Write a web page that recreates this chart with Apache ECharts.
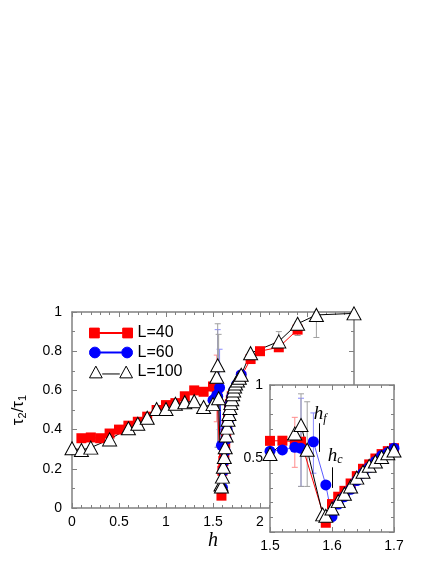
<!DOCTYPE html>
<html><head><meta charset="utf-8">
<script src="https://cdn.jsdelivr.net/npm/echarts@6/dist/echarts.min.js"></script>
<style>html,body{margin:0;padding:0;background:#fff}#c{width:436px;height:564px}</style>
</head><body><div id="c"></div>
<script>
// ---- data ----
const x40 = [0.1,0.2,0.3,0.4,0.5,0.6,0.7,0.8,0.9,1.0,1.1,1.2,1.3,1.4,1.5,1.52,1.54,1.55,1.59,1.60,1.61,1.62,1.63,1.64,1.65,1.66,1.67,1.68,1.69,1.70,1.8,1.9,2.0,2.2,2.4];
const y40 = [0.356,0.36,0.356,0.38,0.40,0.42,0.44,0.466,0.50,0.525,0.535,0.57,0.60,0.593,0.62,0.621,0.614,0.614,0.063,0.19,0.24,0.28,0.33,0.38,0.43,0.46,0.50,0.53,0.55,0.57,0.67,0.76,0.80,0.82,0.91];

const x60 = [1.5,1.52,1.54,1.55,1.57,1.59,1.60,1.61,1.62,1.63,1.64,1.65,1.66,1.67,1.68,1.69,1.70,1.72,1.75,1.8];
const y60 = [0.55,0.558,0.576,0.569,0.614,0.32,0.104,0.19,0.24,0.29,0.35,0.40,0.44,0.48,0.52,0.54,0.57,0.60,0.63,0.68];

const x100 = [0,0.1,0.2,0.4,0.6,0.7,0.8,0.9,1.0,1.1,1.2,1.3,1.4,1.5,1.54,1.55,1.56,1.585,1.59,1.60,1.61,1.62,1.63,1.64,1.65,1.66,1.67,1.68,1.69,1.70,1.71,1.72,1.73,1.74,1.76,1.78,1.8,1.9,2.2,2.4,2.6,3.0];
const y100 = [0.305,0.296,0.308,0.35,0.407,0.43,0.46,0.505,0.505,0.532,0.54,0.545,0.515,0.53,0.67,0.728,0.56,0.12,0.11,0.16,0.21,0.26,0.31,0.37,0.41,0.45,0.48,0.51,0.535,0.555,0.58,0.60,0.62,0.635,0.65,0.665,0.68,0.79,0.85,0.94,0.985,0.993];

// error bars: [x, low, high]
const err40 = [[1.54,0.44,0.78]];
const err60 = [[1.55,0.31,0.91],[1.57,0.40,0.81]];
const err100 = [[1.55,0.31,0.94],[1.56,0.31,0.886],[2.2,0.80,0.90],[2.4,0.88,0.95],[2.6,0.87,0.995]];

const seriesNames = ['L=40','L=60','L=100'];
const mainXTickLabels = [0,0.5,1,1.5,2];
const insetYTickLabels = [0.5,1];

// annotations in inset data coords
const annoText = [['h','f',1.581,0.80],['h','c',1.605,0.52]];
const annoArrow = [[1.58,0.74,0.545],[1.6,0.44,0.30]];

// ---- helpers ----
const zip = (xs, ys) => xs.map((x,i)=>[x, ys[i]]);
const inInset = a => a.filter(d => d[0] >= 1.5 && d[0] <= 1.7);
const AX = '#808080';
const FONT = 'Liberation Sans';

function errRender(color){
  return function(params, api){
    const x = api.value(0), lo = api.value(1), hi = api.value(2);
    const p1 = api.coord([x, lo]), p2 = api.coord([x, hi]);
    const cw = 3;
    const st = {stroke: color, lineWidth: 1};
    return {type:'group', children:[
      {type:'line', shape:{x1:p1[0],y1:p1[1],x2:p2[0],y2:p2[1]}, style:st},
      {type:'line', shape:{x1:p1[0]-cw,y1:p1[1],x2:p1[0]+cw,y2:p1[1]}, style:st},
      {type:'line', shape:{x1:p2[0]-cw,y1:p2[1],x2:p2[0]+cw,y2:p2[1]}, style:st}
    ]};
  };
}

function axisCommon(extra){
  return Object.assign({
    splitLine:{show:false},
    axisLine:{show:true, onZero:false, lineStyle:{color:AX, width:1.5}},
    axisTick:{show:true, inside:true, length:5, lineStyle:{color:AX}},
    axisLabel:{color:'#000', fontFamily:FONT, fontSize:14},
  }, extra);
}

const styles = {
  'L=40': {symbol:'rect', symbolSize:10, itemStyle:{color:'#ff0000'}, lineStyle:{color:'#ff0000', width:1}},
  'L=60': {symbol:'circle', symbolSize:11, itemStyle:{color:'#0000ff'}, lineStyle:{color:'#0000ff', width:1}},
  'L=100': {symbol:'triangle', symbolSize:[14,13], itemStyle:{color:'#ffffff', borderColor:'#000', borderWidth:1}, lineStyle:{color:'#000', width:1}}
};
const dataMap = {'L=40': zip(x40,y40), 'L=60': zip(x60,y60), 'L=100': zip(x100,y100)};
const errMap = {'L=40': err40, 'L=60': err60, 'L=100': err100};
const errColor = {'L=40':'#ff8c8c', 'L=60':'#8a8aff', 'L=100':'#a0a0a0'};

const series = [];
seriesNames.forEach(n=>{
  series.push({type:'custom', name:n+' err', xAxisIndex:0, yAxisIndex:0, z:1,
    renderItem: errRender(errColor[n]), encode:{x:0, y:[1,2]}, data: errMap[n], silent:true});
});
seriesNames.forEach(n=>{
  series.push(Object.assign({type:'line', name:n, xAxisIndex:0, yAxisIndex:0, z:3, data:dataMap[n], animation:false}, styles[n]));
});
seriesNames.forEach(n=>{
  series.push({type:'custom', name:n+' err', xAxisIndex:2, yAxisIndex:2, z:11,
    renderItem: errRender(errColor[n]), encode:{x:0, y:[1,2]}, data: inInset(errMap[n]), silent:true});
});
seriesNames.forEach((n,i)=>{
  const s = Object.assign({type:'line', name:n, xAxisIndex:2, yAxisIndex:2, z:12, clip:true, data:dataMap[n], animation:false}, styles[n]);
  if (n === 'L=60') s.lineStyle = {color:'#5c5cff', width:1};
  if (n === 'L=100') {
    s.markLine = {silent:true, z:14, symbol:['none','arrow'], symbolSize:[0,7], label:{show:false},
      lineStyle:{color:'#000', width:1, type:'solid'}, animation:false,
      data: annoArrow.map(a=>[{coord:[a[0],a[1]]},{coord:[a[0],a[2]]}])};
    s.markPoint = {silent:true, z:14, symbol:'circle', symbolSize:1, itemStyle:{color:'rgba(0,0,0,0)', borderWidth:0}, animation:false,
      label:{show:true, position:'inside', formatter: p => '{h|'+p.data.t+'}{s|'+p.data.s+'}',
        rich:{h:{fontFamily:'Liberation Serif', fontStyle:'italic', fontSize:19, color:'#000'},
              s:{fontFamily:'Liberation Serif', fontStyle:'italic', fontSize:12, color:'#000', verticalAlign:'bottom', padding:[8,0,0,0]}}},
      data: annoText.map(a=>({coord:[a[2],a[3]], t:a[0], s:a[1]}))};
  }
  series.push(s);
});

const iconPaths = {
  'L=40': 'path://M0,1h10v10h-10z M10,5.5h24v1h-24z M34,1h10v10h-10z',
  'L=60': 'path://M0,6a5.5,5.5 0 1,0 11,0a5.5,5.5 0 1,0 -11,0z M11,5.5h22v1h-22z M33,6a5.5,5.5 0 1,0 11,0a5.5,5.5 0 1,0 -11,0z',
  'L=100': 'path://M0,12L6.5,0L13,12z M31,12L37.5,0L44,12z M13,8H31'
};
const legendStyle = {
  'L=40': {color:'#ff0000', borderColor:'#ff0000', borderWidth:1},
  'L=60': {color:'#0000ff', borderColor:'#0000ff', borderWidth:1},
  'L=100': {color:'#ffffff', borderColor:'#000000', borderWidth:1}
};

const option = {
  animation:false,
  backgroundColor:'#fff',
  textStyle:{fontFamily:FONT},
  grid:[
    {left:72, top:312, width:282, height:196, containLabel:false},
    {left:270, top:385, width:124, height:147, containLabel:false, show:true, backgroundColor:'#fff', borderWidth:0, z:10}
  ],
  legend:{
    show:true, orient:'vertical', left:89, top:325, padding:0, itemWidth:43, itemHeight:12, itemGap:3.5,
    selectedMode:false, textStyle:{fontSize:16, color:'#000', fontFamily:FONT},
    data: seriesNames.map(n=>({name:n, icon:iconPaths[n], itemStyle:legendStyle[n]}))
  },
  xAxis:[
    axisCommon({type:'value', gridIndex:0, position:'bottom', min:0, max:3, interval:0.5,
      minorTick:{show:true, splitNumber:5, length:3, lineStyle:{color:AX}},
      axisLabel:{color:'#000', fontFamily:FONT, fontSize:14, margin:7,
        formatter: v => mainXTickLabels.includes(v) ? String(v) : ''},
      name:'h', nameLocation:'middle', nameGap:23,
      nameTextStyle:{fontFamily:'Liberation Serif', fontStyle:'italic', fontSize:20, color:'#000'}}),
    axisCommon({type:'value', gridIndex:0, position:'top', min:0, max:3, interval:0.5,
      minorTick:{show:true, splitNumber:5, length:3, lineStyle:{color:AX}},
      axisLabel:{show:false}}),
    axisCommon({type:'value', gridIndex:1, position:'bottom', min:1.5, max:1.7, interval:0.1, z:11,
      minorTick:{show:true, splitNumber:5, length:3, lineStyle:{color:AX}},
      axisLabel:{color:'#000', fontFamily:FONT, fontSize:14, margin:7}}),
    axisCommon({type:'value', gridIndex:1, position:'top', min:1.5, max:1.7, interval:0.1, z:11,
      minorTick:{show:true, splitNumber:5, length:3, lineStyle:{color:AX}},
      axisLabel:{show:false}})
  ],
  yAxis:[
    axisCommon({type:'value', gridIndex:0, position:'left', min:0, max:1, interval:0.2,
      minorTick:{show:true, splitNumber:2, length:3, lineStyle:{color:AX}},
      axisLabel:{color:'#000', fontFamily:FONT, fontSize:14, margin:10},
      name:'{a|τ}{s|2}{a|/τ}{s|1}', nameLocation:'middle', nameRotate:90, nameGap:44,
      nameTextStyle:{rich:{
        a:{fontFamily:FONT, fontSize:17, color:'#000'},
        s:{fontFamily:FONT, fontSize:11, color:'#000', verticalAlign:'bottom', padding:[9,0,0,0]}}}}),
    axisCommon({type:'value', gridIndex:0, position:'right', min:0, max:1, interval:0.2,
      minorTick:{show:true, splitNumber:2, length:3, lineStyle:{color:AX}},
      axisLabel:{show:false}}),
    axisCommon({type:'value', gridIndex:1, position:'left', min:0, max:1, interval:0.5, z:11,
      minorTick:{show:true, splitNumber:5, length:3, lineStyle:{color:AX}},
      axisLabel:{color:'#000', fontFamily:FONT, fontSize:14, margin:7,
        formatter: v => insetYTickLabels.includes(v) ? String(v) : ''}}),
    axisCommon({type:'value', gridIndex:1, position:'right', min:0, max:1, interval:0.5, z:11,
      minorTick:{show:true, splitNumber:5, length:3, lineStyle:{color:AX}},
      axisLabel:{show:false}})
  ],
  series: series
};
const chart = echarts.init(document.getElementById('c'), null, {renderer:'canvas'});
chart.setOption(option);
</script>
</body></html>
